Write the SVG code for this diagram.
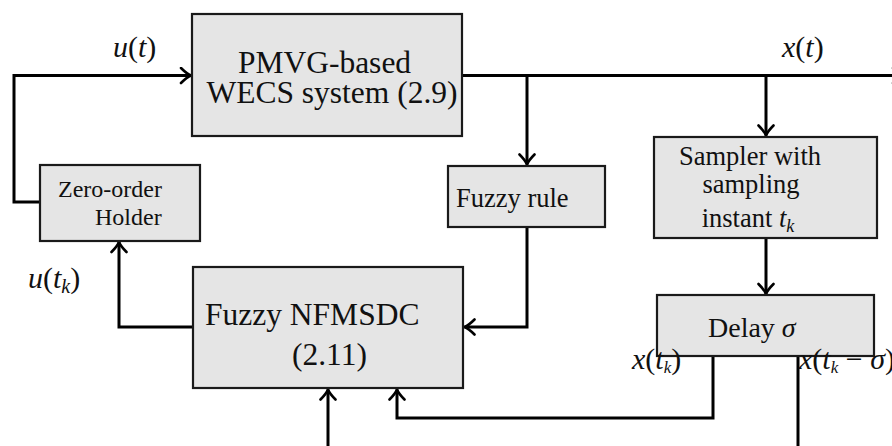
<svg xmlns="http://www.w3.org/2000/svg" width="892" height="446" viewBox="0 0 892 446">
<style>
.box{fill:#e5e5e5;stroke:#1a1a1a;stroke-width:2.2}
.t{font-family:"Liberation Serif","Times New Roman",serif;fill:#111}
.m{font-family:"Liberation Serif","Times New Roman",serif;fill:#111;font-size:30px}
.i{font-style:italic}
.c{fill:none;stroke:#000;stroke-width:3}
</style>
<defs>
<marker id="arr" viewBox="-12 -9 14 18" refX="0" refY="0" markerWidth="14" markerHeight="18" markerUnits="userSpaceOnUse" orient="auto">
<path d="M-10,-7.5 Q-4,-1.5 0,0 Q-4,1.5 -10,7.5" fill="none" stroke="#000" stroke-width="2.6" stroke-linecap="round"/>
</marker>
</defs>
<rect width="892" height="446" fill="#fff"/>
<g id="connectors">
<path class="c" d="M40,202 H14 V75.5 H191" marker-end="url(#arr)"/>
<path class="c" d="M462,75.5 H903" marker-end="url(#arr)"/>
<path class="c" d="M527,75.5 V164.5" marker-end="url(#arr)"/>
<path class="c" d="M766,75.5 V135.5" marker-end="url(#arr)"/>
<path class="c" d="M527,227 V327 H464.5" marker-end="url(#arr)"/>
<path class="c" d="M193,327 H119 V242" marker-end="url(#arr)"/>
<path class="c" d="M766,238 V294" marker-end="url(#arr)"/>
<path class="c" d="M713,356 V418 H397 V389.5" marker-end="url(#arr)"/>
<path class="c" d="M798,356 V446"/>
<path class="c" d="M328,446 V389.5" marker-end="url(#arr)"/>
</g>
<g id="pmvg">
<rect class="box" x="192" y="14" width="270" height="122"/>
<text class="t" font-size="31.5" x="324.5" y="73" text-anchor="middle">PMVG-based</text>
<text class="t" font-size="31.5" x="332" y="103" text-anchor="middle">WECS system (2.9)</text>
</g>
<g id="zoh">
<rect class="box" x="40" y="165" width="160" height="76"/>
<text class="t" font-size="24" x="58" y="197">Zero-order</text>
<text class="t" font-size="24" x="95" y="225">Holder</text>
</g>
<g id="fuzzyrule">
<rect class="box" x="448" y="166" width="157" height="61"/>
<text class="t" font-size="26.5" x="456" y="207">Fuzzy rule</text>
</g>
<g id="sampler">
<rect class="box" x="654" y="137" width="223" height="101"/>
<text class="t" font-size="26.5" x="750" y="165" text-anchor="middle">Sampler with</text>
<text class="t" font-size="26.5" x="751" y="193" text-anchor="middle">sampling</text>
<text class="t" font-size="26.5" x="748" y="227" text-anchor="middle">instant <tspan class="i">t</tspan><tspan class="i" font-size="18" dy="5">k</tspan></text>
</g>
<g id="delay">
<rect class="box" x="657" y="295" width="217" height="61"/>
<text class="t" font-size="28" x="708" y="337">Delay <tspan class="i">σ</tspan></text>
</g>
<g id="nfmsdc">
<rect class="box" x="193" y="267" width="270" height="121"/>
<text class="t" font-size="31.5" x="205" y="325">Fuzzy NFMSDC</text>
<text class="t" font-size="31.5" x="292" y="365">(2.11)</text>
</g>
<g id="labels">
<text class="m" x="113" y="57"><tspan class="i">u</tspan>(<tspan class="i">t</tspan>)</text>
<text class="m" x="782" y="57"><tspan class="i">x</tspan>(<tspan class="i">t</tspan>)</text>
<text class="m" x="28" y="288"><tspan class="i">u</tspan>(<tspan class="i">t</tspan><tspan class="i" font-size="20" dy="5">k</tspan><tspan dy="-5">)</tspan></text>
<text class="m" x="632" y="369" font-size="24"><tspan class="i">x</tspan>(<tspan class="i">t</tspan><tspan class="i" font-size="17" dy="4">k</tspan><tspan dy="-4">)</tspan></text>
<text class="m" x="799" y="369" font-size="24"><tspan class="i">x</tspan>(<tspan class="i">t</tspan><tspan class="i" font-size="17" dy="4">k</tspan><tspan dy="-4"> − </tspan><tspan class="i">σ</tspan>)</text>
</g>
</svg>
